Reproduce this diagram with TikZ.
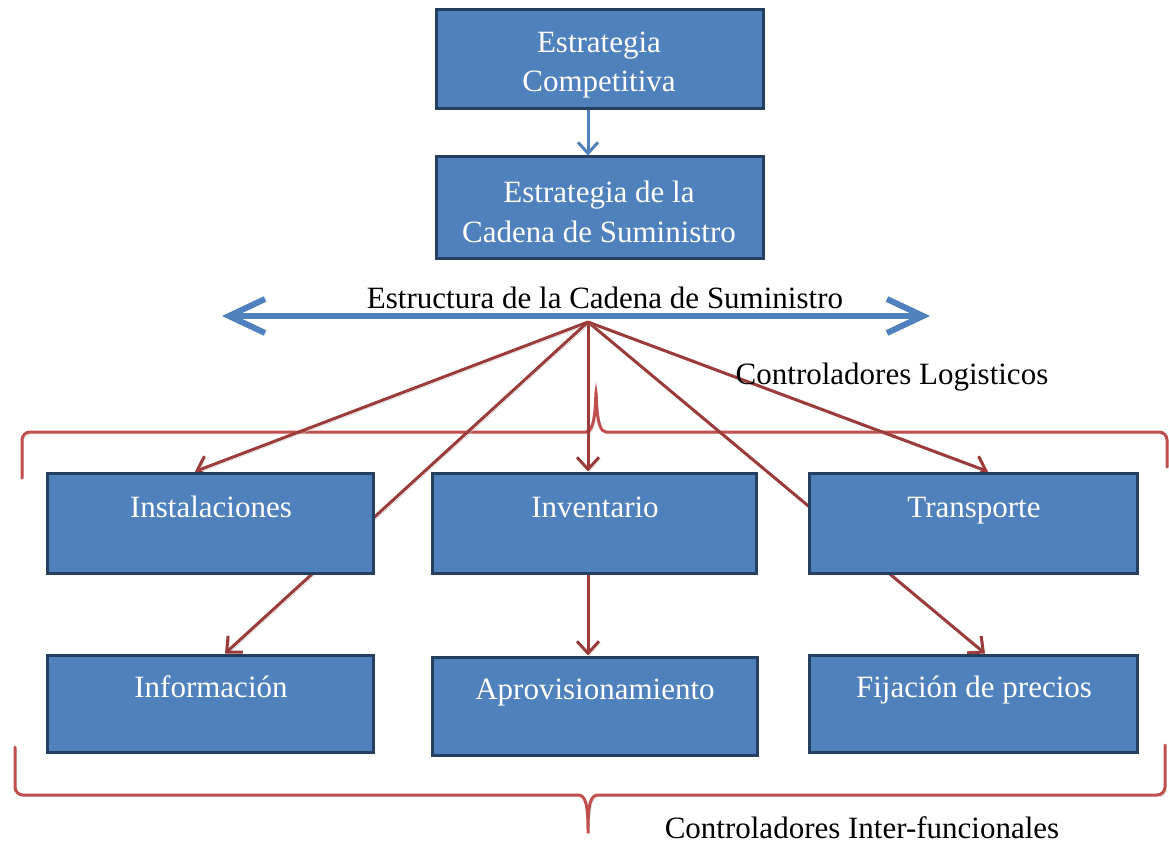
\documentclass[tikz,border=0pt]{standalone}
\usepackage{fontspec}
\setmainfont{Liberation Serif}
\usetikzlibrary{arrows.meta,backgrounds}
\definecolor{boxfill}{HTML}{4F81BD}
\definecolor{boxedge}{HTML}{243F60}
\definecolor{linkred}{HTML}{9B3B3A}
\definecolor{bracered}{HTML}{C0504D}
\definecolor{flowblue}{HTML}{4F81BD}
\newcommand\dgfont{\fontsize{31}{39}\selectfont}
\begin{document}
\begin{tikzpicture}[x=1pt,y=-1pt,
  box/.style={rectangle, draw=boxedge, line width=3pt, fill=boxfill, inner sep=0pt},
  boxlabel/.style={text=white, font=\dgfont, inner sep=0pt, anchor=base},
  plainlabel/.style={text=black, font=\dgfont, inner sep=0pt},
  softshadow/.style={preaction={draw=black!22, transform canvas={shift={(1.5pt,-2pt)}}}},
  link/.style={draw=linkred, line width=3pt, softshadow,
    -{Straight Barb[length=12pt, width=22pt]}},
  brace/.style={draw=bracered, line width=3pt, rounded corners=8pt, line cap=round, softshadow},
  bluelink/.style={draw=flowblue, line width=3pt,
    -{Straight Barb[length=11pt, width=20pt]}},
  bigarrow/.style={draw=flowblue, line width=6pt,
    {Straight Barb[length=36pt, width=34pt]}-{Straight Barb[length=36pt, width=34pt]}}
]
\useasboundingbox (0,0) rectangle (1169,845);

% strategy boxes
\node[box, minimum width=327pt, minimum height=99pt] (compet) at (599.5,59.5) {};
\node[box, minimum width=327pt, minimum height=101pt] (chain) at (599.5,207.5) {};
\node[boxlabel] (competA) at (599,53) {Estrategia};
\node[boxlabel] (competB) at (599,92) {Competitiva};
\node[boxlabel] (chainA) at (599,203) {Estrategia de la};
\node[boxlabel] (chainB) at (599,242) {Cadena de Suministro};
\coordinate (apex) at (588,322);
\draw[bluelink] (compet.south -| apex) -- (chain.north -| apex);

% structure arrow and side captions
\coordinate (bl) at (222,316);
\coordinate (br) at (930,316);
\draw[bigarrow] (bl) -- (br);
\node[plainlabel] (structure) at (605,298) {Estructura de la Cadena de Suministro};
\node[plainlabel] (logist) at (892,377) {Controladores Logisticos};
\node[plainlabel] (interf) at (862,828) {Controladores Inter-funcionales};

% driver boxes
\node[box, minimum width=326pt, minimum height=100pt] (inst) at (210,523) {};
\node[box, minimum width=324pt, minimum height=100pt] (inv) at (594,523) {};
\node[box, minimum width=328pt, minimum height=100pt] (transp) at (973,523) {};
\node[box, minimum width=326pt, minimum height=97pt] (info) at (210,703.5) {};
\node[box, minimum width=325pt, minimum height=98pt] (aprov) at (594.5,706) {};
\node[box, minimum width=328pt, minimum height=97pt] (fij) at (973,703.5) {};

\node[boxlabel] (instL) at (211,517) {Instalaciones};
\node[boxlabel] (invL) at (595,517) {Inventario};
\node[boxlabel] (transpL) at (974,517) {Transporte};
\node[boxlabel] (infoL) at (211,697) {Información};
\node[boxlabel] (aprovL) at (595,699) {Aprovisionamiento};
\node[boxlabel] (fijL) at (974,697) {Fijación de precios};

\begin{pgfonlayer}{background}
  % braces grouping the drivers
  \draw[brace] (22,478) -- (22,432) -- (578,432)
    .. controls (591,432) and (595,424) .. (596,388)
    .. controls (597,424) and (601,432) .. (614,432)
    -- (1167,432) -- (1167,467);
  \draw[brace] (15,747) -- (15,795) -- (570,795)
    .. controls (585,795) and (588,803) .. (588,838)
    .. controls (588,803) and (591,795) .. (606,795)
    -- (1165,795) -- (1165,745);
  % links to the drivers
  \draw[link] (apex) -- ([xshift=-15pt]inst.north);
  \draw[link] (apex) -- ([xshift=15pt]info.north);
  \draw[link] (apex) -- (inv.north -| apex);
  \draw[link] (apex) -- ([xshift=12pt]fij.north);
  \draw[link] (apex) -- ([xshift=15pt]transp.north);
  \draw[link] (inv.south -| apex) -- (aprov.north -| apex);
\end{pgfonlayer}
\end{tikzpicture}
\end{document}
